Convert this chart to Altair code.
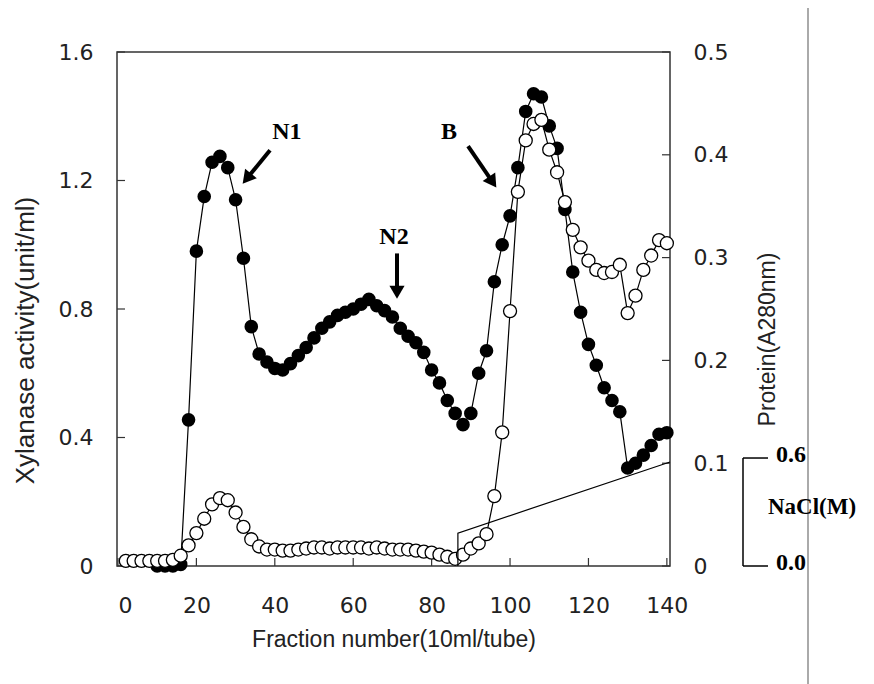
import altair as alt
import pandas as pd

# ---------------- data ----------------
xyl_fraction = [10, 12, 14, 16, 18, 20, 22, 24, 26, 28, 30, 32, 34, 36, 38, 40, 42, 44, 46, 48,
                50, 52, 54, 56, 58, 60, 62, 64, 66, 68, 70, 72, 74, 76, 78, 80, 82, 84, 86, 88,
                90, 92, 94, 96, 98, 100, 102, 104, 106, 108, 110, 112, 114, 116, 118, 120, 122,
                124, 126, 128, 130, 132, 134, 136, 138, 140]
xylanase = [0.0, 0.0, 0.0, 0.005, 0.455, 0.98, 1.15, 1.257, 1.275, 1.24, 1.14, 0.958, 0.745, 0.66,
            0.635, 0.615, 0.61, 0.63, 0.655, 0.68, 0.71, 0.74, 0.76, 0.78, 0.79, 0.80, 0.815,
            0.83, 0.81, 0.795, 0.775, 0.74, 0.715, 0.695, 0.665, 0.61, 0.57, 0.515, 0.475, 0.44,
            0.475, 0.60, 0.67, 0.885, 1.0, 1.09, 1.24, 1.415, 1.47, 1.46, 1.37, 1.30, 1.11, 0.915,
            0.79, 0.69, 0.625, 0.555, 0.515, 0.48, 0.305, 0.32, 0.345, 0.375, 0.41, 0.415]

prot_fraction = [2, 4, 6, 8, 10, 12, 14, 16, 18, 20, 22, 24, 26, 28, 30, 32, 34, 36, 38, 40, 42,
                 44, 46, 48, 50, 52, 54, 56, 58, 60, 62, 64, 66, 68, 70, 72, 74, 76, 78, 80, 82,
                 84, 86, 88, 90, 92, 94, 96, 98, 100, 102, 104, 106, 108, 110, 112, 114, 116, 118,
                 120, 122, 124, 126, 128, 130, 132, 134, 136, 138, 140]
protein = [0.005, 0.005, 0.005, 0.005, 0.005, 0.005, 0.006, 0.01, 0.02, 0.032, 0.046, 0.06, 0.066,
           0.064, 0.052, 0.038, 0.026, 0.019, 0.016, 0.016, 0.015, 0.015, 0.016, 0.017, 0.018,
           0.018, 0.017, 0.018, 0.018, 0.018, 0.018, 0.017, 0.018, 0.017, 0.016, 0.016, 0.016,
           0.015, 0.014, 0.013, 0.011, 0.009, 0.007, 0.011, 0.017, 0.022, 0.031, 0.068, 0.13,
           0.248, 0.364, 0.414, 0.43, 0.434, 0.405, 0.383, 0.354, 0.327, 0.31, 0.297, 0.288,
           0.285, 0.286, 0.293, 0.246, 0.263, 0.288, 0.302, 0.317, 0.314]

nacl_fraction = [86.7, 86.7, 140.8]
nacl_conc = [0.0, 0.183, 0.578]

x_ticks = [0, 20, 40, 60, 80, 100, 120, 140]
xyl_ticks = [0, 0.4, 0.8, 1.2, 1.6]
prot_ticks = [0, 0.1, 0.2, 0.3, 0.4, 0.5]
nacl_ticks = [0.0, 0.6]
nacl_tick_labels = ["0.0", "0.6"]

peak_labels = ["N1", "N2", "B"]
peak_label_fraction = [43.1, 70.4, 84.4]
peak_label_value = [1.351, 1.023, 1.351]
arrow_tail_fraction = [38.78, 71.17, 89.29]
arrow_tail_value = [1.294, 0.973, 1.307]
arrow_head_fraction = [32.86, 71.17, 95.56]
arrow_head_value = [1.206, 0.852, 1.195]
arrow_angle = [219.3, 180, 145.7]

# ---------------- tables ----------------
df_x = pd.DataFrame({"frac": xyl_fraction, "v": xylanase})
df_p = pd.DataFrame({"frac": prot_fraction, "v": protein})
df_n = pd.DataFrame({"frac": nacl_fraction, "v": nacl_conc})
df_xt = pd.DataFrame({"frac": x_ticks})
df_yt = pd.DataFrame({"v": xyl_ticks})
df_pt = pd.DataFrame({"v": prot_ticks})
df_nt = pd.DataFrame({"t": nacl_ticks, "lab": nacl_tick_labels})
df_lab = pd.DataFrame({"lab": peak_labels, "frac": peak_label_fraction, "v": peak_label_value})
df_arr = pd.DataFrame({"frac": arrow_tail_fraction, "v": arrow_tail_value,
                       "f2": arrow_head_fraction, "v2": arrow_head_value, "ang": arrow_angle})
df_head = pd.DataFrame({"frac": arrow_head_fraction, "v": arrow_head_value, "ang": arrow_angle})

W, H = 553, 514
SANS = "Liberation Sans"
LABF = "DejaVu Sans"
SERIF = "Liberation Serif"
TXT = "#222222"

xs = alt.Scale(domain=[-0.25, 140.8], nice=False, zero=False)
ys_x = alt.Scale(domain=[0, 1.6], nice=False)
ys_p = alt.Scale(domain=[0, 0.5], nice=False)
ys_n = alt.Scale(domain=[0, 2.856], nice=False)

x_axis = alt.Axis(values=x_ticks, ticks=False, domain=False, grid=False,
                  labelFont=LABF, labelFontSize=22, labelColor=TXT, labelPadding=29,
                  title="Fraction number(10ml/tube)", titleFont=SANS, titleFontSize=23,
                  titleFontWeight="normal", titleColor=TXT, titlePadding=12)
left_axis = alt.Axis(values=xyl_ticks, ticks=False, domain=False, grid=False,
                     labelExpr="datum.value == 0 ? '0' : format(datum.value, '.1f')",
                     labelFont=LABF, labelFontSize=22, labelColor=TXT, labelPadding=24,
                     title="Xylanase activity(unit/ml)", titleFont=SANS, titleFontSize=26,
                     titleFontWeight="normal", titleColor=TXT, titlePadding=20, titleY=288)
right_axis = alt.Axis(orient="right", values=prot_ticks, ticks=False, domain=False, grid=False,
                      labelExpr="datum.value == 0 ? '0' : format(datum.value, '.1f')",
                      labelFont=LABF, labelFontSize=22, labelColor=TXT, labelPadding=23,
                      title="Protein(A280nm)", titleFont=SANS, titleFontSize=23, titleAngle=270,
                      titleFontWeight="normal", titleColor=TXT, titlePadding=52, titleY=287)

X = alt.X("frac:Q", scale=xs)

# ---------------- xylanase group ----------------
xb = alt.Chart(df_x)
xyl_line = xb.mark_line(color="black", strokeWidth=1.2).encode(
    x=alt.X("frac:Q", scale=xs, axis=x_axis),
    y=alt.Y("v:Q", scale=ys_x, axis=left_axis))
xyl_pts = xb.mark_circle(size=185, color="black", opacity=1).encode(
    x=X, y=alt.Y("v:Q", scale=ys_x))
xticks_rule = alt.Chart(df_xt).mark_rule(color="#333", strokeWidth=1.2).encode(
    x=X, y=alt.value(H), y2=alt.value(H - 8))
yticks_rule = alt.Chart(df_yt).mark_rule(color="#333", strokeWidth=1.2).encode(
    y=alt.Y("v:Q", scale=ys_x), x=alt.value(0), x2=alt.value(8))
lab_text = alt.Chart(df_lab).mark_text(font=SERIF, fontSize=24, fontWeight="bold",
                                       color="black", baseline="middle").encode(
    x=X, y=alt.Y("v:Q", scale=ys_x), text="lab:N")
arr_shaft = alt.Chart(df_arr).mark_rule(color="black", strokeWidth=4).encode(
    x=X, y=alt.Y("v:Q", scale=ys_x), x2="f2:Q", y2="v2:Q")
arr_head = alt.Chart(df_head).mark_point(shape="triangle-up", filled=True, color="black",
                                         opacity=1, size=230).encode(
    x=X, y=alt.Y("v:Q", scale=ys_x), angle=alt.Angle("ang:Q", scale=None))
xyl_group = alt.layer(xyl_line, xyl_pts, xticks_rule, yticks_rule, arr_shaft, arr_head, lab_text)

# ---------------- protein group ----------------
pb = alt.Chart(df_p)
prot_line = pb.mark_line(color="black", strokeWidth=1.2).encode(
    x=X, y=alt.Y("v:Q", scale=ys_p, axis=right_axis))
prot_pts = pb.mark_point(shape="circle", filled=True, fill="white", stroke="black",
                         strokeWidth=1.3, size=170, opacity=1).encode(
    x=X, y=alt.Y("v:Q", scale=ys_p))
pticks_rule = alt.Chart(df_pt).mark_rule(color="#333", strokeWidth=1.2).encode(
    y=alt.Y("v:Q", scale=ys_p), x=alt.value(W), x2=alt.value(W - 8))
prot_group = alt.layer(prot_line, prot_pts, pticks_rule)

# ---------------- NaCl group ----------------
nacl_line = alt.Chart(df_n).mark_line(color="black", strokeWidth=1.2).encode(
    x=X, y=alt.Y("v:Q", scale=ys_n, axis=None), order=alt.Order("v:Q"))
BX = 626
bracket = alt.Chart(pd.DataFrame({"a": [nacl_ticks[0]], "b": [nacl_ticks[-1]]})).mark_rule(
    color="black", strokeWidth=1.5).encode(
    y=alt.Y("a:Q", scale=ys_n, axis=None), y2="b:Q", x=alt.value(BX))
bracket_ticks = alt.Chart(df_nt).mark_rule(color="black", strokeWidth=1.5).encode(
    y=alt.Y("t:Q", scale=ys_n, axis=None), x=alt.value(BX), x2=alt.value(BX + 25))
bracket_labels = alt.Chart(df_nt).mark_text(font=SERIF, fontSize=24, fontWeight="bold",
                                            color="black", align="left", baseline="middle",
                                            dy=-3).encode(
    y=alt.Y("t:Q", scale=ys_n, axis=None), x=alt.value(BX + 33), text="lab:N")
nacl_title = alt.Chart(pd.DataFrame({"v": [0.33], "lab": ["NaCl(M)"]})).mark_text(
    font=SERIF, fontSize=23, fontWeight="bold", color="black", align="center",
    baseline="middle").encode(
    y=alt.Y("v:Q", scale=ys_n, axis=None), x=alt.value(695), text="lab:N")
nacl_group = alt.layer(nacl_line, bracket, bracket_ticks, bracket_labels, nacl_title)

# page edge line on the right
edge = alt.Chart(pd.DataFrame({"d": [0]})).mark_rule(color="#aaaaaa", strokeWidth=2).encode(
    x=alt.value(691), y=alt.value(-44), y2=alt.value(632))

chart = alt.layer(edge, xyl_group, prot_group, nacl_group).resolve_scale(
    y="independent"
).properties(
    width=W, height=H,
    padding={"left": 117, "top": 52, "right": 204, "bottom": 118},
    autosize=alt.AutoSizeParams(type="none"),
    background="white",
).configure_view(stroke="#333333", strokeWidth=1.5)

chart.save("out.html", embed_options={"renderer": "svg", "actions": False})
